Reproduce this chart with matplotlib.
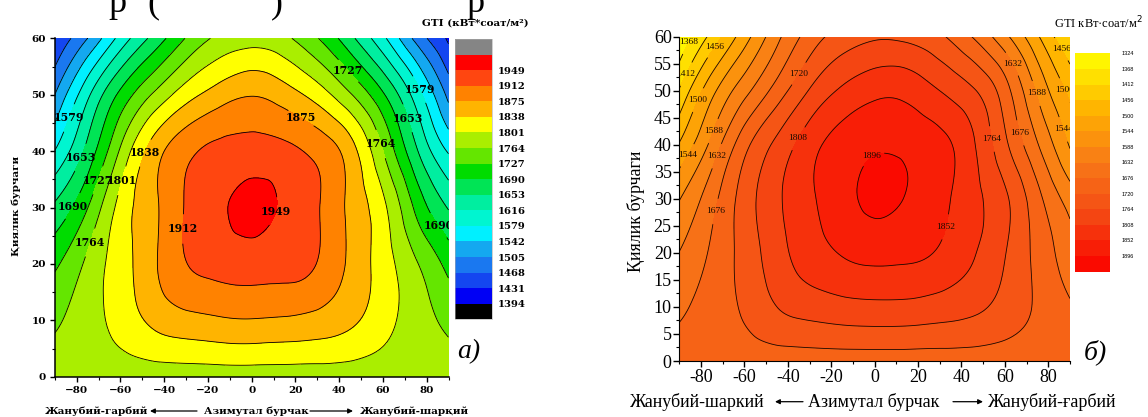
import matplotlib
matplotlib.use("Agg")
import matplotlib.pyplot as plt
import matplotlib.tri as mtri
import numpy as np
from matplotlib.colors import ListedColormap, LinearSegmentedColormap
from matplotlib.patches import FancyArrowPatch

# grid of the readings: azimuth (deg) x tilt (deg)
azimuth = [-90, -75, -60, -45, -30, -15, 0, 15, 30, 45, 60, 75, 90]
tilt = [0, 10, 20, 30, 40, 50, 60]

# a) GTI, kWh/m2 (rows = tilt, columns = azimuth)
gti_a = [
    [1780, 1780, 1780, 1780, 1780, 1780, 1780, 1780, 1780, 1780, 1780, 1780, 1780],
    [1758, 1785, 1815, 1846, 1863, 1870, 1873, 1870, 1863, 1846, 1815, 1783, 1755],
    [1720, 1772, 1822, 1868, 1911, 1925, 1930, 1925, 1911, 1868, 1820, 1768, 1715],
    [1660, 1726, 1814, 1867, 1915, 1942, 1960, 1942, 1915, 1867, 1810, 1720, 1650],
    [1580, 1665, 1769, 1855, 1902, 1922, 1928, 1922, 1902, 1855, 1765, 1660, 1575],
    [1505, 1608, 1699, 1768, 1822, 1856, 1873, 1856, 1822, 1768, 1695, 1600, 1495],
    [1435, 1505, 1592, 1664, 1729, 1772, 1785, 1772, 1729, 1664, 1588, 1495, 1425],
]

# б) GTI, kWh/m2
gti_b = [
    [1697, 1697, 1697, 1697, 1697, 1697, 1697, 1697, 1697, 1697, 1697, 1697, 1697],
    [1667, 1696, 1727, 1764, 1783, 1793, 1797, 1796, 1788, 1775, 1748, 1714, 1681],
    [1633, 1683, 1737, 1790, 1831, 1855, 1866, 1862, 1847, 1813, 1766, 1707, 1650],
    [1586, 1660, 1740, 1800, 1845, 1880, 1905, 1893, 1866, 1822, 1772, 1690, 1612],
    [1504, 1601, 1705, 1775, 1834, 1872, 1890, 1886, 1866, 1815, 1730, 1635, 1540],
    [1416, 1531, 1617, 1695, 1767, 1815, 1840, 1838, 1808, 1770, 1695, 1581, 1488],
    [1335, 1426, 1525, 1620, 1695, 1738, 1758, 1753, 1728, 1675, 1600, 1506, 1415],
]

ticks_a = [1394, 1431, 1468, 1505, 1542, 1579, 1616, 1653, 1690, 1727,
           1764, 1801, 1838, 1875, 1912, 1949]
levels_a = ticks_a + [1986]
ticks_b = [1324, 1368, 1412, 1456, 1500, 1544, 1588, 1632, 1676, 1720,
           1764, 1808, 1852, 1896]
levels_b = ticks_b + [1940]

colors_a = ["#0000f5", "#1446f0", "#1a78f0", "#14a8f0", "#00f0ff", "#00f5d0",
            "#00eea0", "#00e455", "#00dc00", "#64e600", "#aaee00", "#ffff00",
            "#ffb400", "#ff8200", "#ff4610", "#ff0000"]

W, H = 1148, 417


def fx(x):
    return x / W


def fy(y):
    return 1 - y / H


def axes_box(left, top, right, bottom):
    return [fx(left), fy(bottom), (right - left) / W, (bottom - top) / H]


def smooth_field(values):
    nx, ny = len(azimuth), len(tilt)
    xx, yy = np.meshgrid(azimuth, tilt)
    tris = []
    for j in range(ny - 1):
        for i in range(nx - 1):
            p = j * nx + i
            tris.append([p, p + 1, p + nx + 1])
            tris.append([p, p + nx + 1, p + nx])
    tri = mtri.Triangulation(xx.ravel().astype(float), yy.ravel().astype(float),
                             np.array(tris))
    z = np.asarray(values, dtype=float).ravel()
    interp = mtri.CubicTriInterpolator(tri, z, kind="min_E")
    return mtri.UniformTriRefiner(tri).refine_field(z, triinterpolator=interp, subdiv=4)


serif_b = ["Liberation Serif", "DejaVu Serif"]
fig = plt.figure(figsize=(W / 100, H / 100), dpi=100)

# cut-off line of the page text above the figures
for x, s in ((108, "р"), (147, "("), (271, ")"), (466, "р")):
    fig.text(fx(x), fy(12), s, ha="left", va="baseline", fontsize=26, fontfamily=serif_b)

# ---------- a) ----------
ax = fig.add_axes(axes_box(54.8, 38.3, 448.5, 376.7))
tri_r, z_r = smooth_field(gti_a)
cmap_a = ListedColormap(colors_a)
cmap_a.set_under("black")
cmap_a.set_over("#858585")
cf = ax.tricontourf(tri_r, z_r, levels=levels_a, cmap=cmap_a, extend="both")
cl = ax.tricontour(tri_r, z_r, levels=levels_a, colors="black", linewidths=0.6)
ax.set_xlim(-90, 90)
ax.set_ylim(0, 60)
lab_pos_a = [(-83, 45.8), (-79, 39), (-71.7, 35), (-58, 34.6), (-45.7, 39.2),
             (-82.4, 30.4), (-73.2, 23.7), (-31.8, 26.2), (9.8, 29.4), (22.5, 45.8),
             (45, 54.5), (57, 41), (71, 45.8), (76, 50.8), (86, 27)]
texts = ax.clabel(cl, manual=lab_pos_a, fmt="%d", fontsize=7.8, inline=True, inline_spacing=1)
for t in texts:
    t.set_rotation(0)
    t.set_fontfamily("DejaVu Serif")
    t.set_fontweight("bold")
    t.set_clip_on(True)

ax.set_xticks([-80, -60, -40, -20, 0, 20, 40, 60, 80])
ax.set_xticklabels(["\u221280", "\u221260", "\u221240", "\u221220", "0", "20", "40", "60", "80"])
ax.set_xticks(range(-90, 91, 10), minor=True)
ax.set_yticks(range(0, 61, 10))
ax.set_yticks(range(0, 61, 5), minor=True)
ax.tick_params(which="major", direction="out", length=3.5, width=1, labelsize=7.5, pad=3)
ax.tick_params(which="minor", direction="out", length=2.2, width=0.8)
for lbl in ax.get_xticklabels() + ax.get_yticklabels():
    lbl.set_fontfamily("DejaVu Serif")
    lbl.set_fontweight("bold")
for s in ("top", "right"):
    ax.spines[s].set_visible(False)
for s in ("left", "bottom"):
    ax.spines[s].set_linewidth(1.1)

cax = fig.add_axes(axes_box(455, 39, 492, 319.3))
cb = fig.colorbar(cf, cax=cax, extendrect=True, extendfrac=1 / 16, ticks=ticks_a)
cb.ax.tick_params(length=0, labelsize=7.2, pad=4)
for lbl in cb.ax.get_yticklabels():
    lbl.set_fontfamily("DejaVu Serif")
    lbl.set_fontweight("bold")
cb.outline.set_linewidth(0.4)
cb.outline.set_edgecolor("#aaaaaa")

bold = dict(fontfamily="DejaVu Serif", fontweight="bold", fontsize=7.5)
fig.text(fx(475), fy(23), "GTI (кВт*соат/м²)", ha="center", va="center", **bold)
fig.text(fx(16), fy(206), "Қиялик бурчаги", rotation=90, ha="center", va="center", **bold)
fig.text(fx(97), fy(411), "Жанубий-гарбий", ha="center", va="center", **bold)
fig.text(fx(256.5), fy(411), "Азимутал бурчак", ha="center", va="center", **bold)
fig.text(fx(414.5), fy(411), "Жанубий-шарқий", ha="center", va="center", **bold)
for x0, x1 in ((197, 150), (310, 353)):
    fig.add_artist(FancyArrowPatch((fx(x0), fy(411)), (fx(x1), fy(411)),
                                   transform=fig.transFigure, arrowstyle="-|>",
                                   mutation_scale=7, lw=0.9, color="black",
                                   shrinkA=0, shrinkB=0))
fig.text(fx(469), fy(352), "a)", ha="center", va="center", fontsize=20,
         fontstyle="italic", fontfamily=serif_b)

# ---------- б) ----------
bx = fig.add_axes(axes_box(679.3, 36.7, 1070, 361))
tri_r, z_r = smooth_field(gti_b)
cmap_b = LinearSegmentedColormap.from_list(
    "gti_b", ["#fff500", "#ffb000", "#f87818", "#f44a14", "#fa0a00"], N=14)
cf_b = bx.tricontourf(tri_r, z_r, levels=levels_b, cmap=cmap_b)
cl_b = bx.tricontour(tri_r, z_r, levels=levels_b, colors="#1a0a00", linewidths=0.6)
bx.set_xlim(-90, 90)
bx.set_ylim(0, 60)
lab_pos_b = [(-89.8, 59.8), (-75.3, 58.6), (-88.5, 53.4), (-81, 48.2), (-74, 42.5),
             (-85.7, 37.9), (-71.3, 37.7), (-71.3, 27.5), (-37.1, 53.7), (-34.5, 41),
             (0.2, 37.1), (30.5, 25), (53, 41), (67.9, 42.3), (61.8, 54.6),
             (74.4, 49.5), (87, 50), (84, 57.2), (88, 43)]
texts = bx.clabel(cl_b, manual=lab_pos_b, fmt="%d", fontsize=6.8, inline=True, inline_spacing=1)
for t in texts:
    t.set_rotation(0)
    t.set_fontfamily(serif_b)
    t.set_clip_on(True)

bx.set_xticks([-80, -60, -40, -20, 0, 20, 40, 60, 80])
bx.set_xticklabels(["-80", "-60", "-40", "-20", "0", "20", "40", "60", "80"])
bx.set_xticks(range(-90, 91, 10), minor=True)
bx.set_yticks(range(0, 61, 5))
bx.set_yticks(np.arange(0, 60.1, 2.5), minor=True)
bx.tick_params(which="major", direction="out", length=4, width=1, labelsize=13, pad=1.5)
bx.tick_params(which="minor", direction="out", length=2.5, width=0.8)
for lbl in bx.get_xticklabels() + bx.get_yticklabels():
    lbl.set_fontfamily(serif_b)
for s in ("top", "right"):
    bx.spines[s].set_visible(False)

cbx = fig.add_axes(axes_box(1075, 53.3, 1110, 271.7))
cb_b = fig.colorbar(cf_b, cax=cbx, ticks=ticks_b)
cb_b.ax.invert_yaxis()
cb_b.ax.tick_params(length=0, labelsize=4, pad=8)
for lbl in cb_b.ax.get_yticklabels():
    lbl.set_fontfamily("Liberation Sans")
cb_b.outline.set_visible(False)

reg = dict(fontfamily=serif_b, fontsize=13)
fig.text(fx(1098.5), fy(22.7), "GTI кВт·соат/м$^2$", ha="center", va="center",
         fontfamily=serif_b, fontsize=9)
fig.text(fx(636), fy(211), "Қиялик бурчаги", rotation=90, ha="center", va="center", **reg)
fig.text(fx(697), fy(401.7), "Жанубий-шаркий", ha="center", va="center", **reg)
fig.text(fx(874), fy(401.7), "Азимутал бурчак", ha="center", va="center", **reg)
fig.text(fx(1052.5), fy(401.7), "Жанубий-ғарбий", ha="center", va="center", **reg)
for x0, x1 in ((803, 775), (953, 983)):
    fig.add_artist(FancyArrowPatch((fx(x0), fy(401.7)), (fx(x1), fy(401.7)),
                                   transform=fig.transFigure, arrowstyle="-|>",
                                   mutation_scale=7, lw=0.9, color="black",
                                   shrinkA=0, shrinkB=0))
fig.text(fx(1095), fy(352), "б)", ha="center", va="center", fontsize=20,
         fontstyle="italic", fontfamily=serif_b)

fig.savefig("out.png", dpi=100)
